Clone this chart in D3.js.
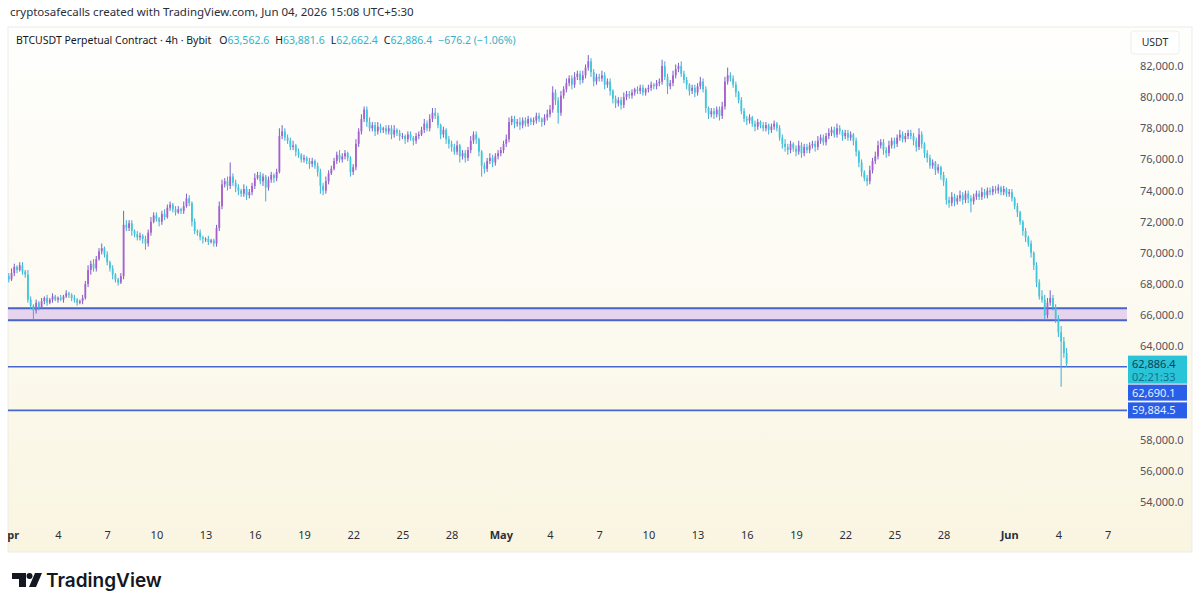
<!DOCTYPE html>
<html>
<head>
<meta charset="utf-8">
<script src="https://cdn.jsdelivr.net/npm/d3@7"></script>
<style>
  body { margin: 0; background: #fff; }
  svg { display: block; font-family: "Noto Sans", sans-serif; }
</style>
</head>
<body>
<svg id="chart"></svg>
<script>
const width = 1200;
const height = 608;

// first 4h candle opens Apr 1 00:00
const startDay = "2026-04-01";
const firstOpen = 68.5; // thousands of USDT

// closes of each 4h candle, thousands of USDT, one row per day
const closes = [
  68.3, 68.7, 69.1, 68.9, 69.2, 68.8,   // Apr 1
  68.6, 67.0, 66.6, 66.3, 66.8, 66.5,
  66.9, 67.1, 66.8, 67.0, 67.2, 67.0,
  67.1, 67.0, 67.2, 67.4, 67.3, 67.1,
  67.0, 66.8, 66.9, 67.1, 68.0, 68.9,
  69.3, 69.0, 69.6, 70.1, 70.3, 69.9,
  69.4, 69.0, 68.6, 68.3, 68.1, 68.5,
  71.8, 71.6, 71.9, 71.4, 71.2, 71.0,
  71.1, 70.9, 70.6, 71.3, 72.0, 72.4,
  72.2, 72.0, 72.5, 72.3, 72.9, 73.1,   // Apr 10
  72.8, 72.6, 72.8, 72.7, 73.0, 73.5,
  73.2, 72.0, 71.4, 71.3, 71.0, 70.9,
  70.9, 70.7, 70.8, 70.6, 71.6, 73.0,
  74.4, 74.6, 74.3, 74.9, 74.5, 74.2,
  74.0, 73.8, 74.1, 73.7, 73.9, 74.3,
  74.8, 75.0, 74.6, 74.9, 74.2, 74.7,
  75.0, 74.8, 75.2, 77.5, 77.8, 77.4,
  77.2, 76.8, 76.9, 76.5, 76.3, 76.0,
  76.1, 75.9, 75.7, 75.9, 75.6, 75.2,
  74.3, 74.0, 74.6, 75.1, 75.4, 75.9,   // Apr 20
  76.3, 76.0, 76.2, 76.4, 76.1, 75.2,
  75.5, 77.0, 77.8, 78.6, 79.2, 78.4,
  78.0, 78.2, 77.8, 78.1, 77.9, 78.0,
  77.8, 78.0, 77.6, 77.9, 77.7, 77.5,
  77.5, 77.3, 77.6, 77.4, 77.2, 77.5,
  77.6, 77.9, 78.3, 78.0, 78.6, 79.0,
  78.8, 78.2, 77.6, 77.9, 77.3, 77.0,
  76.8, 76.5, 76.9, 76.2, 76.4, 76.1,
  76.6, 77.2, 77.6, 77.3, 76.5, 75.6,
  75.4, 75.9, 76.1, 75.8, 76.2, 76.4,   // Apr 30
  76.6, 77.0, 77.3, 78.4, 78.6, 78.3,   // May 1
  78.4, 78.2, 78.5, 78.3, 78.6, 78.4,
  78.5, 78.8, 78.6, 78.4, 78.7, 78.9,
  79.2, 80.3, 79.8, 79.0, 80.1, 80.5,
  80.9, 81.2, 80.8, 81.3, 81.5, 81.1,
  81.4, 81.9, 82.3, 81.6, 81.0, 81.3,
  81.2, 81.4, 80.8, 81.0, 80.4, 79.9,
  79.6, 79.8, 79.5, 80.0, 80.2, 80.1,
  80.3, 80.5, 80.4, 80.6, 80.3, 80.5,
  80.6, 80.8, 80.7, 80.9, 81.0, 82.0,   // May 10
  81.3, 80.7, 80.9, 81.4, 81.8, 82.0,
  81.5, 81.1, 80.8, 80.4, 80.6, 80.3,
  80.7, 81.0, 80.5, 79.3, 78.9, 79.1,
  78.9, 79.2, 78.8, 79.4, 81.0, 81.4,
  81.2, 80.8, 80.3, 79.8, 79.1, 78.6,
  78.5, 78.7, 78.3, 78.1, 78.4, 78.2,
  78.0, 78.2, 77.9, 78.1, 78.3, 78.0,
  77.4, 77.0, 76.8, 76.6, 77.0, 76.7,
  76.5, 76.9, 76.4, 76.8, 76.6, 76.9,
  77.0, 76.8, 77.2, 77.4, 77.1, 77.5,   // May 20
  77.7, 77.9, 77.6, 78.0, 77.8, 77.5,
  77.7, 77.4, 77.6, 77.2, 76.5, 75.8,
  75.2, 74.8, 74.6, 75.3, 75.9, 76.2,
  76.9, 77.1, 76.6, 76.4, 76.9, 77.2,
  77.0, 77.4, 77.6, 77.3, 77.5, 77.7,
  77.5, 77.2, 76.8, 77.6, 77.0, 76.4,
  76.1, 75.6, 75.8, 75.3, 75.5, 75.0,
  74.6, 73.4, 73.2, 73.6, 73.3, 73.5,
  73.7, 73.4, 73.8, 73.5, 73.3, 73.6,
  73.8, 73.6, 73.9, 73.7, 74.0, 73.9,   // May 30
  74.1, 74.0, 74.2, 73.9, 74.1, 73.8,
  73.9, 73.5, 73.0, 72.6, 72.0, 71.4,   // Jun 1
  71.0, 70.6, 70.0, 69.2, 68.1, 67.2,
  67.0, 66.0, 66.8, 67.1, 66.5, 65.8,
  64.9, 64.3, 63.5626, 62.8864          // Jun 4
];

// upper wick length above the body, hundreds of USDT
const wickHi = [
  2, 3, 2, 1, 2, 2,  1, 3, 2, 1, 2, 1,  2, 1, 2, 1, 2, 1,  1, 2, 1, 2, 1, 1,
  2, 1, 1, 2, 2, 3,  2, 3, 2, 2, 3, 1,  2, 1, 2, 1, 1, 2,  9, 3, 2, 2, 1, 2,
  2, 1, 2, 2, 3, 2,  2, 1, 2, 3, 2, 2,  1, 2, 2, 1, 3, 3,  2, 1, 2, 1, 2, 1,
  1, 2, 1, 1, 2, 3,  3, 2, 3, 9, 2, 2,  2, 1, 3, 2, 2, 2,  3, 2, 2, 2, 1, 2,
  2, 1, 2, 5, 4, 2,  2, 2, 3, 1, 2, 1,  2, 1, 2, 2, 1, 2,  2, 2, 3, 2, 2, 2,
  2, 3, 2, 2, 1, 1,  2, 3, 2, 3, 2, 2,  3, 2, 2, 3, 2, 1,  2, 2, 2, 3, 1, 2,
  2, 1, 2, 2, 1, 2,  2, 2, 3, 2, 3, 3,  3, 2, 1, 2, 1, 2,  2, 2, 3, 1, 2, 2,
  2, 3, 2, 2, 1, 1,  2, 2, 3, 2, 2, 2,  2, 2, 3, 3, 2, 2,  2, 3, 2, 2, 2, 1,
  2, 2, 2, 1, 2, 3,  3, 4, 2, 2, 3, 2,  3, 2, 2, 3, 2, 2,  3, 2, 4, 2, 2, 2,
  2, 3, 2, 2, 2, 1,  2, 2, 2, 3, 2, 2,  2, 1, 2, 2, 2, 1,  2, 2, 1, 2, 2, 4,
  3, 2, 2, 3, 3, 2,  3, 2, 2, 1, 2, 2,  2, 3, 2, 2, 1, 2,  2, 2, 2, 3, 3, 5,
  2, 2, 2, 1, 2, 2,  2, 2, 1, 2, 2, 1,  2, 2, 1, 2, 2, 1,  2, 2, 3, 2, 2, 1,
  2, 3, 2, 2, 2, 2,  2, 2, 3, 2, 2, 2,  3, 2, 2, 3, 2, 1,  2, 2, 2, 1, 2, 1,
  2, 1, 2, 3, 2, 3,  3, 2, 2, 2, 3, 2,  2, 2, 3, 2, 2, 2,  2, 2, 2, 4, 2, 1,
  2, 2, 2, 1, 2, 1,  2, 2, 2, 3, 2, 2,  3, 2, 2, 2, 2, 2,  2, 2, 3, 2, 2, 2,
  2, 2, 2, 1, 2, 1,  2, 2, 1, 2, 1, 1,  2, 1, 2, 1, 2, 2,  4, 3, 3, 5, 2, 2,
  2, 4, 3, 3.19
];

// lower wick length below the body, hundreds of USDT
const wickLo = [
  2, 1, 2, 2, 1, 2,  2, 2, 2, 6, 2, 2,  1, 2, 2, 1, 2, 1,  2, 1, 2, 1, 2, 2,
  2, 2, 1, 2, 1, 2,  3, 2, 2, 1, 2, 2,  2, 2, 3, 2, 2, 1,  2, 2, 2, 3, 2, 2,
  2, 3, 4, 2, 2, 1,  2, 3, 2, 2, 1, 2,  2, 2, 1, 2, 2, 1,  2, 3, 2, 2, 2, 3,
  2, 2, 1, 2, 2, 2,  2, 2, 3, 2, 2, 3,  3, 2, 2, 3, 2, 2,  2, 1, 2, 3, 9, 2,
  2, 3, 2, 1, 2, 2,  2, 2, 2, 3, 2, 2,  2, 2, 3, 2, 2, 3,  5, 3, 2, 2, 1, 1,
  2, 2, 2, 2, 2, 3,  2, 2, 2, 2, 2, 3,  2, 2, 3, 2, 2, 2,  2, 2, 3, 2, 2, 3,
  2, 3, 2, 2, 3, 2,  2, 1, 2, 2, 2, 2,  2, 2, 3, 2, 3, 3,  3, 2, 2, 4, 2, 3,
  2, 2, 2, 3, 3, 7,  3, 2, 2, 3, 2, 2,  2, 2, 2, 2, 2, 3,  2, 3, 2, 2, 2, 2,
  2, 2, 2, 3, 2, 2,  2, 2, 3, 7, 2, 2,  2, 2, 3, 2, 2, 3,  2, 2, 2, 3, 3, 2,
  2, 2, 3, 2, 3, 3,  3, 2, 3, 2, 2, 2,  2, 2, 2, 2, 2, 2,  2, 2, 2, 2, 2, 2,
  2, 5, 2, 2, 2, 2,  2, 2, 3, 3, 2, 3,  2, 2, 2, 3, 3, 2,  3, 2, 3, 2, 2, 2,
  2, 2, 3, 2, 2, 2,  3, 2, 2, 3, 2, 2,  2, 2, 3, 2, 2, 2,  2, 3, 3, 3, 2, 2,
  3, 2, 3, 2, 2, 2,  2, 3, 2, 2, 2, 2,  2, 2, 2, 2, 2, 3,  2, 2, 2, 3, 3, 3,
  3, 2, 3, 2, 2, 2,  2, 2, 3, 3, 2, 2,  3, 2, 2, 2, 2, 2,  2, 3, 3, 2, 3, 3,
  3, 2, 2, 3, 2, 3,  3, 3, 3, 2, 3, 2,  2, 3, 2, 3, 7, 2,  2, 2, 2, 2, 2, 2,
  2, 2, 2, 2, 2, 2,  2, 2, 2, 3, 2, 3,  3, 2, 3, 3, 3, 2,  2, 3, 2, 2, 2, 3,
  3, 29, 3, 2.24
];

const priceTicks = [54000, 56000, 58000, 60000, 62000, 64000, 66000, 68000,
                    70000, 72000, 74000, 76000, 78000, 80000, 82000];
const dateTicks = ["2026-04-01", "2026-04-04", "2026-04-07", "2026-04-10", "2026-04-13",
                   "2026-04-16", "2026-04-19", "2026-04-22", "2026-04-25", "2026-04-28",
                   "2026-05-01", "2026-05-04", "2026-05-07", "2026-05-10", "2026-05-13",
                   "2026-05-16", "2026-05-19", "2026-05-22", "2026-05-25", "2026-05-28",
                   "2026-06-01", "2026-06-04", "2026-06-07"];
const dateLabels = ["Apr", "4", "7", "10", "13", "16", "19", "22", "25", "28",
                    "May", "4", "7", "10", "13", "16", "19", "22", "25", "28",
                    "Jun", "4", "7"];

// drawn levels (USDT)
const zoneTop = 66450;
const zoneBottom = 65680;
const levels = [62690.1, 59884.5];
const countdown = "02:21:33";

const pane = {left: 8, right: 1192, top: 27, bottom: 552};
const plotRight = 1127;

const parseDay = d3.timeParse("%Y-%m-%d");
const fmt = d3.format(",.1f");

// build candles
const t0 = parseDay(startDay);
const candles = closes.map(function(c, i) {
  const o = i === 0 ? firstOpen : closes[i - 1];
  return {
    time: d3.timeHour.offset(t0, i * 4),
    open: o * 1000,
    close: c * 1000,
    high: Math.max(o, c) * 1000 + wickHi[i] * 100,
    low: Math.min(o, c) * 1000 - wickLo[i] * 100
  };
});
const last = candles[candles.length - 1];

const svg = d3.select("#chart").attr("width", width).attr("height", height);

const x = d3.scaleTime()
  .domain([parseDay("2026-04-01"), parseDay("2026-06-07")])
  .range([8.8, 1107.6]);
const y = d3.scaleLinear()
  .domain([54000, 82000])
  .range([502, 66]);

const defs = svg.append("defs");
const grad = defs.append("linearGradient")
  .attr("id", "bg").attr("x1", 0).attr("y1", 0).attr("x2", 0).attr("y2", 1);
grad.append("stop").attr("offset", "0%").attr("stop-color", "#fefefd");
grad.append("stop").attr("offset", "55%").attr("stop-color", "#fcfaf0");
grad.append("stop").attr("offset", "100%").attr("stop-color", "#faf5e1");

defs.append("clipPath").attr("id", "plotClip")
  .append("rect")
  .attr("x", pane.left).attr("y", pane.top)
  .attr("width", plotRight - pane.left).attr("height", pane.bottom - pane.top);
defs.append("clipPath").attr("id", "paneClip")
  .append("rect")
  .attr("x", pane.left).attr("y", pane.top)
  .attr("width", pane.right - pane.left).attr("height", pane.bottom - pane.top);

svg.append("rect").attr("width", width).attr("height", height).attr("fill", "#fff");

// header
svg.append("text")
  .attr("x", 10).attr("y", 16)
  .attr("font-size", 11.5).attr("fill", "#2a2e39")
  .text("cryptosafecalls created with TradingView.com, Jun 04, 2026 15:08 UTC+5:30");

// pane background
svg.append("rect")
  .attr("x", pane.left).attr("y", pane.top)
  .attr("width", pane.right - pane.left).attr("height", pane.bottom - pane.top)
  .attr("fill", "url(#bg)")
  .attr("stroke", "#ebebe6").attr("stroke-width", 1);

const plot = svg.append("g").attr("clip-path", "url(#plotClip)");

// zone
plot.append("rect")
  .attr("x", pane.left).attr("y", y(zoneTop))
  .attr("width", plotRight - pane.left).attr("height", y(zoneBottom) - y(zoneTop))
  .attr("fill", "#e6d3ee");
[zoneTop, zoneBottom].forEach(function(v) {
  plot.append("line")
    .attr("x1", pane.left).attr("x2", plotRight)
    .attr("y1", y(v)).attr("y2", y(v))
    .attr("stroke", "#4b62c8").attr("stroke-width", 2);
});

// horizontal levels
plot.selectAll(".level")
  .data(levels)
  .enter().append("line")
    .attr("class", "level")
    .attr("x1", pane.left).attr("x2", plotRight)
    .attr("y1", function(d) { return y(d); })
    .attr("y2", function(d) { return y(d); })
    .attr("stroke", "#4866cf").attr("stroke-width", 1.6);

// candles
const bar = plot.append("g").selectAll("g")
  .data(candles)
  .enter().append("g");

bar.append("line")
  .attr("x1", function(d) { return x(d.time); })
  .attr("x2", function(d) { return x(d.time); })
  .attr("y1", function(d) { return y(d.high); })
  .attr("y2", function(d) { return y(d.low); })
  .attr("stroke", function(d) { return d.close >= d.open ? "#7460d0" : "#40acd9"; })
  .attr("stroke-width", 1);

bar.append("rect")
  .attr("x", function(d) { return x(d.time) - 0.9; })
  .attr("width", 1.8)
  .attr("y", function(d) { return y(Math.max(d.open, d.close)); })
  .attr("height", function(d) { return Math.max(0.8, Math.abs(y(d.open) - y(d.close))); })
  .attr("fill", function(d) { return d.close >= d.open ? "#a95fcb" : "#3ec8db"; });

// legend
const legend = svg.append("text")
  .attr("x", 16).attr("y", 44)
  .attr("font-size", 10.5).attr("fill", "#131722");
legend.append("tspan").text("BTCUSDT Perpetual Contract · 4h · Bybit");
const teal = "#33b3c9";
const chg = last.close - last.open;
[["O", last.open], ["H", last.high], ["L", last.low], ["C", last.close]].forEach(function(p, i) {
  legend.append("tspan").attr("dx", i === 0 ? 8 : 6).text(p[0]);
  legend.append("tspan").attr("fill", teal).text(fmt(p[1]));
});
legend.append("tspan").attr("dx", 6).attr("fill", teal)
  .text(fmt(chg) + " (" + d3.format(".2f")(chg / last.open * 100) + "%)");

// price labels sit over the axis, so work out their boxes first
const lastY = y(last.close);
const boxes = [{top: lastY - 8, h: 28}];
let prevBottom = lastY + 20;
levels.forEach(function(v) {
  const top = Math.max(y(v) - 8, prevBottom + 1);
  boxes.push({top: top, h: 16, value: v});
  prevBottom = top + 16;
});
function covered(v) {
  const py = y(v);
  return boxes.some(function(b) { return py > b.top - 6 && py < b.top + b.h + 6; });
}

// price axis
const yAxis = svg.append("g")
  .attr("transform", "translate(1140,0)")
  .call(d3.axisRight(y)
    .tickValues(priceTicks.filter(function(v) { return !covered(v); }))
    .tickFormat(fmt).tickSize(0).tickPadding(0));
yAxis.select(".domain").remove();
yAxis.selectAll("text")
  .attr("font-family", "Noto Sans, sans-serif")
  .attr("font-size", 11).attr("fill", "#50535e");

// USDT box
svg.append("rect")
  .attr("x", 1131).attr("y", 31).attr("width", 48).attr("height", 23).attr("rx", 3)
  .attr("fill", "#ffffff").attr("stroke", "#eeeeee");
svg.append("text")
  .attr("x", 1155).attr("y", 46).attr("text-anchor", "middle")
  .attr("font-size", 10.5).attr("fill", "#2a2e39").text("USDT");

// time axis
const xAxis = svg.append("g")
  .attr("clip-path", "url(#paneClip)")
  .append("g")
  .attr("transform", "translate(0,531)")
  .call(d3.axisBottom(x)
    .tickValues(dateTicks.map(parseDay))
    .tickFormat(function(d, i) { return dateLabels[i]; })
    .tickSize(0).tickPadding(0));
xAxis.select(".domain").remove();
xAxis.selectAll("text")
  .attr("font-family", "Noto Sans, sans-serif")
  .attr("font-size", 11).attr("fill", "#2a2e39")
  .attr("font-weight", function(d, i) { return isNaN(+dateLabels[i]) ? 700 : 400; });

// last price label with countdown
svg.append("rect")
  .attr("x", 1128).attr("y", boxes[0].top).attr("width", 59).attr("height", boxes[0].h)
  .attr("fill", "#29c4d8");
svg.append("text")
  .attr("x", 1132).attr("y", lastY + 4)
  .attr("font-size", 11).attr("fill", "#0d3e57").text(fmt(last.close));
svg.append("text")
  .attr("x", 1132).attr("y", lastY + 17)
  .attr("font-size", 11).attr("fill", "#16708a").text(countdown);

// level labels
boxes.slice(1).forEach(function(b) {
  svg.append("rect")
    .attr("x", 1128).attr("y", b.top).attr("width", 59).attr("height", b.h)
    .attr("fill", "#2b5ee8");
  svg.append("text")
    .attr("x", 1132).attr("y", b.top + 12)
    .attr("font-size", 11).attr("fill", "#e8eeff").text(fmt(b.value));
});

// TradingView logo
const logo = svg.append("g").attr("fill", "#131722");
logo.append("path").attr("d", "M12,573 h14 v14 h-7 v-8 h-7 z");
logo.append("circle").attr("cx", 29.5).attr("cy", 576).attr("r", 3);
logo.append("path").attr("d", "M35,573 h7 l-6,14 h-7 z");
svg.append("text")
  .attr("x", 46).attr("y", 587)
  .attr("font-family", "Inter, sans-serif")
  .attr("font-size", 19).attr("font-weight", 600).attr("fill", "#131722")
  .text("TradingView");
</script>
</body>
</html>
